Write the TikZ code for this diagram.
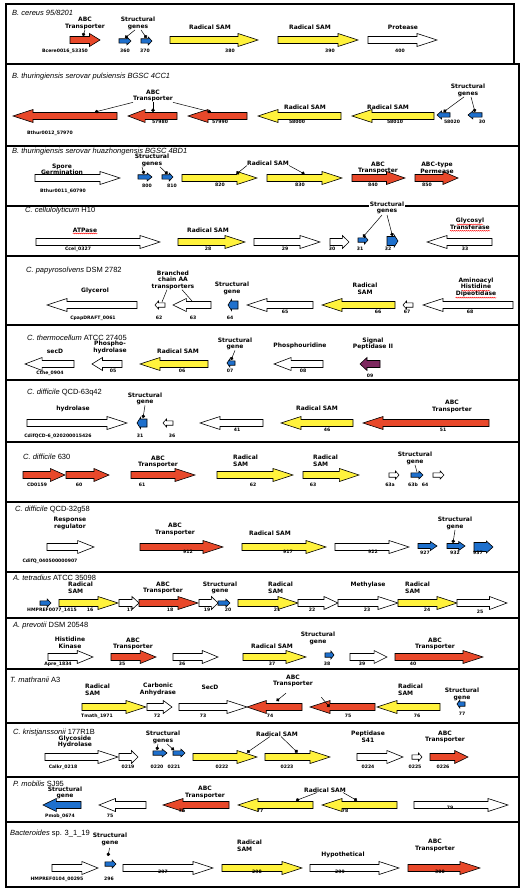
\documentclass[tikz,border=0pt]{standalone}
\usepackage{fontspec}
\setmainfont{Liberation Sans}
\newfontfamily\lblfont{DejaVu Sans}
\usetikzlibrary{arrows.meta, calc, decorations.pathmorphing}
\definecolor{abcred}{RGB}{232,72,42}
\definecolor{samyellow}{RGB}{255,242,60}
\definecolor{strblue}{RGB}{30,112,205}
\definecolor{sigpurple}{RGB}{125,40,95}
\tikzset{
    gene/.style={draw=black, line width=0.6pt, fill=white, line join=miter},
    abc/.style={fill=abcred},
    sam/.style={fill=samyellow},
    strc/.style={fill=strblue},
    sig/.style={fill=sigpurple},
    lbl/.style={font=\lblfont\bfseries\fontsize{6}{6.6}\selectfont, align=center, inner sep=0pt},
    lbll/.style={lbl, align=left, anchor=west},
    tag/.style={font=\lblfont\bfseries\fontsize{4.6}{5}\selectfont, inner sep=0pt},
    ttl/.style={font=\fontsize{7.5}{8}\selectfont, anchor=west, inner sep=0pt},
    stalk/.style={line width=0.5pt, -{Circle[length=3.5pt]}},
    rule/.style={line width=0.5pt},
    spell/.style={draw=red, line width=0.4pt, decorate,
        decoration={snake, amplitude=0.5pt, segment length=2pt}},
    panelbox/.style={line width=1.8pt},
}
% style, name, x1, x2 (tip), y, body half, head half
\newcommand{\genecore}[7]{%
  \pgfmathsetmacro{\genlen}{abs(#4-#3)}%
  \pgfmathsetmacro{\gendir}{(#4>#3) ? 1 : -1}%
  \pgfmathsetmacro{\genhead}{min(20,0.35*\genlen)}%
  \pgfmathsetmacro{\genbase}{#4-\gendir*\genhead}%
  \draw[gene,#1] (#3,#5-#6) -- (\genbase,#5-#6) -- (\genbase,#5-#7) -- (#4,#5)
    -- (\genbase,#5+#7) -- (\genbase,#5+#6) -- (#3,#5+#6) -- cycle;
  \coordinate (#2) at ({(#3+#4)/2},#5);}
\newcommand{\gene}[5][]{%
  \pgfmathtruncatemacro{\gensmall}{abs(#4-#3)<16}%
  \ifnum\gensmall=1 \genecore{#1}{#2}{#3}{#4}{#5}{2.2}{4}%
  \else \genecore{#1}{#2}{#3}{#4}{#5}{3.5}{6.5}\fi}

\begin{document}
\begin{tikzpicture}[x=1pt, y=-1pt]
\useasboundingbox (0,0) rectangle (532,893);

\foreach \ptop/\pbot/\pright in {4/64/514, 64/146/519, 146/206/519, 206/256/519,
    256/325/519, 325/380/519, 380/442/519, 442/502/519, 502/572/519, 572/618/519,
    618/669/519, 669/723/519, 723/777/519, 777/822/519, 822/887/519}
  \draw[panelbox] (6,\ptop) rectangle (\pright,\pbot);

% B. cereus
\node[ttl] (h1) at (12,13) {\itshape B. cereus 95/8201};
\gene[abc]{p1g53350}{70}{100}{40}
\gene[strc]{p1g360}{119}{131}{41}
\gene[strc]{p1g370}{141}{152}{41}
\gene[sam]{p1g380}{170}{258}{40}
\gene[sam]{p1g390}{278}{358}{40}
\gene{p1g400}{368}{437}{40}
\node[lbl] (l1abc) at (85,23.5) {ABC\\Transporter};
\node[lbl] (l1str) at (138,23.5) {Structural\\genes};
\node[lbl] (l1sam1) at (210,27) {Radical SAM};
\node[lbl] (l1sam2) at (310,27) {Radical SAM};
\node[lbl] (l1prot) at (403,27) {Protease};
\draw[stalk] (l1abc.south) -- ($(p1g53350)+(-2,-4)$);
\draw[stalk] ($(l1str.south)+(-3,0)$) -- ($(p1g360)+(0,-3)$);
\draw[stalk] ($(l1str.south)+(3,0)$) -- ($(p1g370)+(0,-3)$);
\node[tag] (p1t53350) at (65,51) {Bcere0016\_53350};
\node[tag] (p1t360) at (125,51) {360};
\node[tag] (p1t370) at (145,51) {370};
\node[tag] (p1t380) at (230,51) {380};
\node[tag] (p1t390) at (330,51) {390};
\node[tag] (p1t400) at (400,51) {400};

% B. thuringiensis pulsiensis
\node[ttl] (h2) at (12,77) {\itshape B. thuringiensis serovar pulsiensis BGSC 4CC1};
\gene[abc]{p2g57970}{117}{13}{116}
\gene[abc]{p2g57980}{177}{128}{116}
\gene[abc]{p2g57990}{247}{188}{116}
\gene[sam]{p2g58000}{341}{258}{116}
\gene[sam]{p2g58010}{434}{352}{116}
\gene[strc]{p2g58020}{450}{437}{115}
\gene[strc]{p2g58030}{482}{468}{115}
\node[lbl] (l2abc) at (153,96) {ABC\\Transporter};
\node[lbl] (l2sam1) at (305,107) {Radical SAM};
\node[lbl] (l2sam2) at (388,107) {Radical SAM};
\node[lbl] (l2str) at (468,90.5) {Structural\\genes};
\draw[stalk] (l2abc.south west) -- ($(p2g57970)+(30,-4)$);
\draw[stalk] (l2abc.south) -- ($(p2g57980)+(0.5,-4)$);
\draw[stalk] (l2abc.south east) -- ($(p2g57990)+(-6.5,-4)$);
\draw[stalk] ($(l2str.south)+(-4,0)$) -- ($(p2g58020)+(0,-3)$);
\draw[stalk] ($(l2str.south)+(3,0)$) -- ($(p2g58030)+(0,-3)$);
\node[tag] (p2t57970) at (50,133) {Bthur0012\_57970};
\node[tag] (p2t57980) at (160,122) {57980};
\node[tag] (p2t57990) at (220,122) {57990};
\node[tag] (p2t58000) at (297,122) {58000};
\node[tag] (p2t58010) at (395,122) {58010};
\node[tag] (p2t58020) at (452,122) {58020};
\node[tag] (p2t58030) at (482,122) {30};

% B. thuringiensis huazhongensis
\node[ttl] (h3) at (12,152) {\itshape B. thuringiensis serovar huazhongensis BGSC 4BD1};
\gene{p3g60790}{35}{120}{178}
\gene[strc]{p3g800}{138}{152}{177}
\gene[strc]{p3g810}{162}{173}{177}
\gene[sam]{p3g820}{182}{257}{178}
\gene[sam]{p3g830}{267}{342}{178}
\gene[abc]{p3g840}{352}{405}{178}
\gene[abc]{p3g850}{415}{458}{178}
\node[lbl] (l3spore) at (62,169.5) {Spore\\Germination};
\node[lbl] (l3str) at (152,160.5) {Structural\\genes};
\node[lbl] (l3sam) at (268,163) {Radical SAM};
\node[lbl] (l3abc) at (378,168) {ABC\\Transporter};
\node[lbl] (l3perm) at (437,168) {ABC-type\\Permease};
\draw[stalk] ($(l3str.south)+(-10,0)$) -- ($(p3g800)+(-1,-3)$);
\draw[stalk] ($(l3str.south)+(8,0)$) -- ($(p3g810)+(0,-3)$);
\draw[stalk] (l3sam.south west) -- ($(p3g820)+(17,-4)$);
\draw[stalk] (l3sam.south east) -- ($(p3g830)+(0,-4)$);
\node[tag] (p3t60790) at (63,191) {Bthur0011\_60790};
\node[tag] (p3t800) at (147,185.5) {800};
\node[tag] (p3t810) at (172,185.5) {810};
\node[tag] (p3t820) at (220,185) {820};
\node[tag] (p3t830) at (300,185) {830};
\node[tag] (p3t840) at (373,185) {840};
\node[tag] (p3t850) at (427,185) {850};

% C. cellulolyticum
\node[ttl] (h4) at (25,211) {\itshape C. cellulolyticum \upshape H10};
\gene{p4g0327}{36}{160}{242}
\gene[sam]{p4g28}{178}{245}{242}
\gene{p4g29}{254}{320}{242}
\gene{p4g30}{330}{349}{242}
\gene[strc]{p4g31}{358}{368}{240}
\genecore{strc}{p4g32}{387}{398}{241}{4.5}{6}
\gene{p4g33}{492}{427}{242}
\node[lbl] (l4atp) at (85,230) {ATPase};
\node[lbl] (l4sam) at (208,230) {Radical SAM};
\node[lbl, fill=white, inner sep=0.6pt] (l4str) at (387,208) {Structural\\genes};
\node[lbl] (l4gly) at (470,224) {Glycosyl\\Transferase};
\draw[stalk] ($(l4str.south)+(-5,0)$) -- ($(p4g31)+(0,-3)$);
\draw[stalk] (l4str.south) -- ($(p4g32)+(0,-5)$);
\draw[spell] ($(l4atp.south west)+(0,1)$) -- ($(l4atp.south east)+(0,1)$);
\draw[spell] ($(l4gly.south west)+(0,1)$) -- ($(l4gly.south east)+(0,1)$);
\draw[spell] ($(l4gly.center)+(-13,0.5)$) -- ($(l4gly.center)+(13,0.5)$);
\node[tag] (p4t0327) at (78,249) {Ccel\_0327};
\node[tag] (p4t28) at (208,249) {28};
\node[tag] (p4t29) at (285,249) {29};
\node[tag] (p4t30) at (332,249) {30};
\node[tag] (p4t31) at (360,249) {31};
\node[tag] (p4t32) at (388,249) {32};
\node[tag] (p4t33) at (465,249) {33};

% C. papyrosolvens
\node[ttl] (h5) at (26,271) {\itshape C. papyrosolvens \upshape DSM 2782};
\gene{p5g0061}{137}{47}{305}
\gene{p5g62}{165}{155}{305}
\gene{p5g63}{211}{173}{305}
\genecore{strc}{p5g64}{238}{228}{305}{4}{5.5}
\gene{p5g65}{313}{247}{305}
\gene[sam]{p5g66}{395}{322}{305}
\gene{p5g67}{413}{403}{305}
\gene{p5g68}{513}{423}{305}
\node[lbl] (l5gly) at (95,291) {Glycerol};
\node[lbl] (l5bca) at (173,280) {Branched\\chain AA\\transporters};
\node[lbl] (l5str) at (232,288.5) {Structural\\gene};
\node[lbl] (l5sam) at (365,289) {Radical\\SAM};
\node[lbl] (l5ami) at (476,287) {Aminoacyl\\Histidine\\Dipeotidase};
\draw[rule] ($(l5bca.south)+(-6,0)$) -- ($(p5g62)+(2,-3)$);
\draw[rule] ($(l5bca.south)+(9,0)$) -- ($(p5g63)+(0,-4)$);
\draw[spell] ($(l5ami.south west)+(0,1)$) -- ($(l5ami.south east)+(0,1)$);
\draw[spell] ($(l5ami.center)+(-14,3.8)$) -- ($(l5ami.center)+(14,3.8)$);
\node[tag] (p5t0061) at (93,318) {CpapDRAFT\_0061};
\node[tag] (p5t62) at (159,318) {62};
\node[tag] (p5t63) at (193,318) {63};
\node[tag] (p5t64) at (230,318) {64};
\node[tag] (p5t65) at (285,312) {65};
\node[tag] (p5t66) at (378,312) {66};
\node[tag] (p5t67) at (407,312) {67};
\node[tag] (p5t68) at (470,312) {68};

% C. thermocellum
\node[ttl] (h6) at (27,338) {\itshape C. thermocellum \upshape ATCC 27405};
\gene{p6g0904}{74}{25}{364}
\gene{p6g05}{122}{92}{364}
\gene[sam]{p6g06}{208}{140}{364}
\gene[strc]{p6g07}{235}{227}{363}
\gene{p6g08}{323}{274}{364}
\gene[sig]{p6g09}{380}{360}{364}
\node[lbl] (l6sec) at (55,351) {secD};
\node[lbl] (l6pho) at (110,347.5) {Phospho-\\hydrolase};
\node[lbl] (l6sam) at (178,351) {Radical SAM};
\node[lbl] (l6str) at (235,344) {Structural\\gene};
\node[lbl] (l6uri) at (300,346) {Phosphouridine};
\node[lbl] (l6sig) at (373,344) {Signal\\Peptidase II};
\draw[stalk] (l6str.south) -- ($(p6g07)+(0,-3)$);
\node[tag] (p6t0904) at (50,373) {Cthe\_0904};
\node[tag] (p6t05) at (113,371) {05};
\node[tag] (p6t06) at (182,371) {06};
\node[tag] (p6t07) at (230,371) {07};
\node[tag] (p6t08) at (303,371) {08};
\node[tag] (p6t09) at (370,376) {09};

% C. difficile QCD-63q42
\node[ttl] (h7) at (27,393) {\itshape C. difficile \upshape QCD-63q42};
\gene{p7g5426}{27}{127}{423}
\genecore{strc}{p7g31}{147}{137}{423}{4}{5.5}
\gene{p7g36}{173}{163}{423}
\gene{p7g41}{263}{200}{423}
\gene[sam]{p7g46}{353}{281}{423}
\gene[abc]{p7g51}{489}{363}{423}
\node[lbl] (l7hyd) at (73,409) {hydrolase};
\node[lbl] (l7str) at (145,399) {Structural\\gene};
\node[lbl] (l7sam) at (317,408) {Radical SAM};
\node[lbl] (l7abc) at (452,406.5) {ABC\\Transporter};
\draw[stalk] (l7str.south) -- ($(p7g31)+(1,-5)$);
\node[tag] (p7t5426) at (58,436) {CdifQCD-6\_020200015426};
\node[tag] (p7t31) at (140,436) {31};
\node[tag] (p7t36) at (172,436) {36};
\node[tag] (p7t41) at (237,430) {41};
\node[tag] (p7t46) at (327,430) {46};
\node[tag] (p7t51) at (443,430) {51};

% C. difficile 630
\node[ttl] (h8) at (23,457) {\itshape C. difficile \upshape 630};
\gene[abc]{p8g0159}{23}{65}{475}
\gene[abc]{p8g60}{66}{109}{475}
\gene[abc]{p8g61}{131}{195}{475}
\gene[sam]{p8g62}{217}{293}{475}
\gene[sam]{p8g63}{303}{359}{475}
\gene{p8g63a}{389}{399}{475}
\gene[strc]{p8g63b}{411}{423}{475}
\gene{p8g64}{433}{444}{475}
\node[lbl] (l8abc) at (158,462) {ABC\\Transporter};
\node[lbll] (l8sam1) at (233,461) {Radical\\SAM};
\node[lbll] (l8sam2) at (313,461) {Radical\\SAM};
\node[lbl] (l8str) at (415,458.5) {Structural\\gene};
\draw[rule] (l8str.south) -- ($(p8g63b)+(0,-3)$);
\node[tag] (p8t0159) at (37,485) {CD0159};
\node[tag] (p8t60) at (79,485) {60};
\node[tag] (p8t61) at (142,485) {61};
\node[tag] (p8t62) at (253,485) {62};
\node[tag] (p8t63) at (313,485) {63};
\node[tag] (p8t63a) at (390,485) {63a};
\node[tag] (p8t63b) at (413,485) {63b};
\node[tag] (p8t64) at (425,485) {64};

% C. difficile QCD-32g58
\node[ttl] (h9) at (15,510) {\itshape C. difficile \upshape QCD-32g58};
\gene{p9g0907}{47}{94}{547}
\gene[abc]{p9g912}{140}{223}{547}
\gene[sam]{p9g917}{242}{326}{547}
\gene{p9g922}{335}{409}{547}
\genecore{strc}{p9g927}{418}{437}{546}{2.5}{4.5}
\genecore{strc}{p9g932}{447}{465}{546}{2.5}{4.5}
\genecore{strc}{p9g937}{474}{493}{547}{4.5}{6}
\node[lbl] (l9res) at (70,523.5) {Response\\regulator};
\node[lbl] (l9abc) at (175,529.5) {ABC\\Transporter};
\node[lbl] (l9sam) at (270,533) {Radical SAM};
\node[lbl] (l9str) at (455,523.5) {Structural\\gene};
\draw[stalk] (l9str.south) -- ($(p9g932)+(-3,-3)$);
\node[tag] (p9t0907) at (50,561) {CdifQ\_040500000907};
\node[tag] (p9t912) at (188,552) {912};
\node[tag] (p9t917) at (288,552) {917};
\node[tag] (p9t922) at (373,552) {922};
\node[tag] (p9t927) at (425,553) {927};
\node[tag] (p9t932) at (455,553) {932};
\node[tag] (p9t937) at (478,553) {937};

% A. tetradius
\node[ttl] (h10) at (13,577.5) {\itshape A. tetradius \upshape ATCC 35098};
\gene[strc]{p10g1415}{40}{51}{603}
\gene[sam]{p10g16}{59}{118}{603}
\gene{p10g17}{119}{139}{603}
\gene[abc]{p10g18}{139}{198}{603}
\gene{p10g19}{199}{218}{603}
\gene[strc]{p10g20}{218}{230}{603}
\gene[sam]{p10g21}{238}{298}{603}
\gene{p10g22}{298}{338}{603}
\gene{p10g23}{338}{398}{603}
\gene[sam]{p10g24}{398}{457}{603}
\gene{p10g25}{457}{507}{603}
\node[lbll] (l10sam1) at (68,588) {Radical\\SAM};
\node[lbl] (l10abc) at (163,588) {ABC\\Transporter};
\node[lbl] (l10str) at (220,588) {Structural\\gene};
\node[lbll] (l10sam2) at (268,588) {Radical\\SAM};
\node[lbl] (l10met) at (368,585) {Methylase};
\node[lbll] (l10sam3) at (405,588) {Radical\\SAM};
\node[tag] (p10t1415) at (52,610) {HMPREF0077\_1415};
\node[tag] (p10t16) at (90,610) {16};
\node[tag] (p10t17) at (130,610) {17};
\node[tag] (p10t18) at (170,610) {18};
\node[tag] (p10t19) at (207,610) {19};
\node[tag] (p10t20) at (228,610) {20};
\node[tag] (p10t21) at (277,610) {21};
\node[tag] (p10t22) at (312,610) {22};
\node[tag] (p10t23) at (367,610) {23};
\node[tag] (p10t24) at (427,610) {24};
\node[tag] (p10t25) at (480,612) {25};

% A. prevotii
\node[ttl] (h11) at (13,626) {\itshape A. prevotii \upshape DSM 20548};
\gene{p11g1834}{48}{93}{657}
\gene[abc]{p11g35}{111}{156}{657}
\gene{p11g36}{173}{218}{657}
\gene[sam]{p11g37}{243}{306}{657}
\gene[strc]{p11g38}{325}{334}{655}
\gene{p11g39}{350}{387}{657}
\gene[abc]{p11g40}{395}{483}{657}
\node[lbl] (l11his) at (70,642.5) {Histidine\\Kinase};
\node[lbl] (l11abc1) at (133,644) {ABC\\Transporter};
\node[lbl] (l11sam) at (272,646) {Radical SAM};
\node[lbl] (l11str) at (318,638.5) {Structural\\gene};
\node[lbl] (l11abc2) at (435,644) {ABC\\Transporter};
\node[tag] (p11t1834) at (58,664) {Apre\_1834};
\node[tag] (p11t35) at (122,664) {35};
\node[tag] (p11t36) at (182,664) {36};
\node[tag] (p11t37) at (272,664) {37};
\node[tag] (p11t38) at (327,664) {38};
\node[tag] (p11t39) at (362,664) {39};
\node[tag] (p11t40) at (413,664) {40};

% T. mathranii
\node[ttl] (h12) at (10,680) {\itshape T. mathranii \upshape A3};
\gene[sam]{p12g1971}{82}{146}{707}
\gene{p12g72}{147}{172}{707}
\gene{p12g73}{179}{247}{707}
\gene[abc]{p12g74}{302}{247}{707}
\gene[abc]{p12g75}{375}{310}{707}
\gene[sam]{p12g76}{440}{377}{707}
\gene[strc]{p12g77}{465}{457}{704}
\node[lbll] (l12sam1) at (85,689.5) {Radical\\SAM};
\node[lbl] (l12car) at (158,689.5) {Carbonic\\Anhydrase};
\node[lbl] (l12sec) at (210,687) {SecD};
\node[lbl] (l12abc) at (293,681) {ABC\\Transporter};
\node[lbll] (l12sam2) at (398,689.5) {Radical\\SAM};
\node[lbl] (l12str) at (462,694.5) {Structural\\gene};
\draw[stalk, shorten <=9pt] (l12abc.south) -- ($(p12g74)+(2,-6)$);
\draw[stalk, shorten <=13pt] (l12abc.south east) -- ($(p12g75)+(-13,0)$);
\node[tag] (p12t1971) at (97,716) {Tmath\_1971};
\node[tag] (p12t72) at (157,716) {72};
\node[tag] (p12t73) at (203,716) {73};
\node[tag] (p12t74) at (270,716) {74};
\node[tag] (p12t75) at (348,716) {75};
\node[tag] (p12t76) at (417,716) {76};
\node[tag] (p12t77) at (462,714) {77};

% C. kristjanssonii
\node[ttl] (h13) at (13,733) {\itshape C. kristjanssonii \upshape 177R1B};
\gene{p13g0218}{45}{118}{757}
\gene{p13g0219}{119}{138}{757}
\gene[strc]{p13g0220}{153}{167}{753}
\gene[strc]{p13g0221}{173}{185}{753}
\gene[sam]{p13g0222}{193}{257}{757}
\gene[sam]{p13g0223}{265}{330}{757}
\gene{p13g0224}{357}{403}{757}
\gene{p13g0225}{412}{422}{757}
\gene[abc]{p13g0226}{430}{468}{757}
\node[lbl] (l13gly) at (75,742) {Glycoside\\Hydrolase};
\node[lbl] (l13str) at (163,737.5) {Structural\\genes};
\node[lbl] (l13sam) at (277,734) {Radical SAM};
\node[lbl] (l13pep) at (368,737) {Peptidase\\S41};
\node[lbl] (l13abc) at (445,737) {ABC\\Transporter};
\draw[stalk] ($(l13str.south)+(-5,0)$) -- ($(p13g0220)+(-3,-3)$);
\draw[stalk] ($(l13str.south)+(4,0)$) -- ($(p13g0221)+(-5,-3)$);
\draw[stalk] ($(l13sam.south)+(-7,0)$) -- ($(p13g0222)+(22,-4.5)$);
\draw[stalk] ($(l13sam.south)+(4,0)$) -- ($(p13g0223)+(0,-4.5)$);
\node[tag] (p13t0218) at (63,767) {Calkr\_0218};
\node[tag] (p13t0219) at (128,767) {0219};
\node[tag] (p13t0220) at (157,767) {0220};
\node[tag] (p13t0221) at (174,767) {0221};
\node[tag] (p13t0222) at (222,767) {0222};
\node[tag] (p13t0223) at (287,767) {0223};
\node[tag] (p13t0224) at (368,767) {0224};
\node[tag] (p13t0225) at (415,767) {0225};
\node[tag] (p13t0226) at (443,767) {0226};

% P. mobilis
\node[ttl] (h14) at (13,784) {\itshape P. mobilis \upshape SJ95};
\gene[strc]{p14g0674}{81}{43}{805}
\gene{p14g75}{146}{99}{805}
\gene[abc]{p14g76}{229}{163}{805}
\gene[sam]{p14g77}{313}{238}{805}
\gene[sam]{p14g78}{397}{322}{805}
\gene{p14g79}{414}{508}{805}
\node[lbl] (l14str) at (65,793) {Structural\\gene};
\node[lbl] (l14abc) at (205,792.5) {ABC\\Transporter};
\node[lbl] (l14sam) at (325,790) {Radical SAM};
\draw[stalk] ($(l14sam.south)+(-8,0)$) -- ($(p14g77)+(20.5,-4.5)$);
\draw[stalk] ($(l14sam.south)+(18,0)$) -- ($(p14g78)+(-2.5,-4.5)$);
\node[tag] (p14t0674) at (60,816) {Pmob\_0674};
\node[tag] (p14t75) at (110,816) {75};
\node[tag] (p14t76) at (182,811) {76};
\node[tag] (p14t77) at (260,811) {77};
\node[tag] (p14t78) at (345,811) {78};
\node[tag] (p14t79) at (450,808) {79};

% Bacteroides
\node[ttl] (h15) at (10,834) {\itshape Bacteroides \upshape sp. 3\_1\_19};
\gene{p15g00295}{52}{98}{868}
\gene[strc]{p15g296}{105}{116}{864}
\gene{p15g297}{123}{213}{868}
\gene[sam]{p15g298}{222}{302}{868}
\gene{p15g299}{310}{399}{868}
\gene[abc]{p15g300}{408}{480}{868}
\node[lbl] (l15str) at (110,839.5) {Structural\\gene};
\node[lbll] (l15sam) at (237,845.5) {Radical\\SAM};
\node[lbl] (l15hyp) at (343,855) {Hypothetical};
\node[lbl] (l15abc) at (435,845.5) {ABC\\Transporter};
\draw[stalk, shorten <=2pt] (l15str.south) -- ($(p15g296)+(-2.5,-8)$);
\node[tag] (p15t00295) at (57,879) {HMPREF0104\_00295};
\node[tag] (p15t296) at (109,879) {296};
\node[tag] (p15t297) at (163,872) {297};
\node[tag] (p15t298) at (257,872) {298};
\node[tag] (p15t299) at (340,872) {299};
\node[tag] (p15t300) at (440,872) {300};

\end{tikzpicture}
\end{document}
